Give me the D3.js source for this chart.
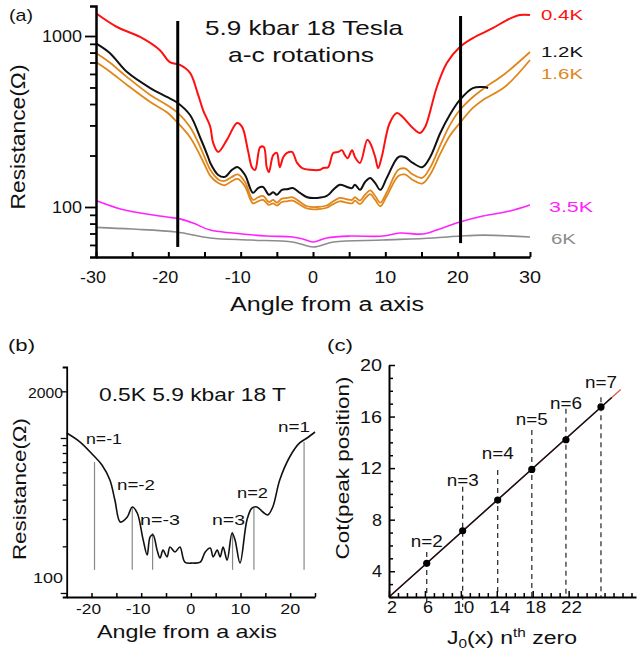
<!DOCTYPE html>
<html>
<head>
<meta charset="utf-8">
<script src="https://cdn.jsdelivr.net/npm/d3@7"></script>
<style>
  body { margin: 0; background: #fff; }
  svg { display: block; }
  text { font-family: "Liberation Sans", Arial, Helvetica, sans-serif; fill: #111; }
</style>
</head>
<body>
<svg id="fig" width="637" height="654"></svg>
<script>
// ---------------- Panel (a): a-c rotations at 5.9 kbar, 18 T ----------------
const r04K = [[-30,1358],[-27.1,1129],[-23.9,987],[-21.2,828],[-19.8,704],[-18.4,677],[-17.0,608],[-16.0,470],[-15.2,369],[-14.2,294],[-13.8,237],[-13.1,210],[-11.9,247],[-10.5,310],[-9.8,294],[-9.0,215],[-8.4,169],[-8.0,165],[-7.3,224],[-6.8,224],[-6.4,171],[-6.1,160],[-5.5,201],[-5.0,207],[-4.6,171],[-4.1,196],[-3.6,207],[-2.9,210],[-2.2,181],[-1.5,169],[-0.4,165],[1.0,165],[1.4,169],[2.1,171],[2.8,207],[3.5,210],[4.0,215],[4.4,201],[4.8,193],[5.4,215],[5.8,196],[6.5,181],[7.5,247],[7.9,237],[8.6,196],[9.0,169],[9.5,196],[10.6,310],[11.6,355],[12.4,336],[13.8,290],[14.8,271],[15.5,294],[16.5,406],[17.1,500],[18.5,695],[20.3,863],[22.1,973],[24.9,1114],[26.8,1240],[28.6,1327],[30,1327]];
const r12K = [[-30,906],[-28.1,796],[-25.7,615],[-22.5,496],[-20.2,440],[-18.7,406],[-17.0,345],[-15.6,255],[-14.5,196],[-14.2,181],[-13.1,154],[-12.2,150],[-11.2,165],[-10.4,171],[-9.4,154],[-8.3,121],[-7.6,129],[-6.9,131],[-6.1,118],[-5.5,122],[-5.0,118],[-4.3,126],[-3.6,127],[-2.8,129],[-1.8,121],[-0.8,114],[0.6,113],[1.9,116],[2.8,126],[3.7,135],[4.7,131],[5.4,129],[5.8,135],[6.5,126],[7.2,140],[7.9,148],[8.6,138],[9.3,126],[10.2,148],[11.8,196],[12.7,196],[13.8,181],[15.1,171],[16.2,196],[17.6,271],[18.9,345],[20.3,423],[22.1,496],[23.5,503],[24.2,496]];
const r16Ka = [[-30,796],[-28.1,700],[-25.7,575],[-22.5,452],[-20.2,395],[-18.7,355],[-17.0,294],[-15.6,225],[-14.5,175],[-14.2,165],[-13.1,145],[-12.2,142],[-11.2,150],[-10.4,155],[-9.4,140],[-8.3,110],[-7.6,114],[-6.9,116],[-6.1,107],[-5.5,110],[-5.0,106],[-4.3,112],[-3.6,113],[-2.8,114],[-1.8,107],[-0.8,101],[0.6,100],[1.9,102],[2.8,108],[3.7,113],[4.7,111],[5.4,110],[5.8,114],[6.5,109],[7.2,118],[7.9,125],[8.6,116],[9.3,106],[10.2,122],[11.8,165],[12.7,168],[13.8,155],[15.1,148],[16.2,170],[17.6,230],[18.9,300],[20.3,369],[22.1,440],[23.5,490],[26.5,600],[30,806]];
const r16Kb = [[-30,704],[-28.1,620],[-25.7,517],[-22.5,411],[-20.2,358],[-18.7,310],[-17.0,256],[-15.6,200],[-14.5,160],[-14.2,152],[-13.1,138],[-12.2,134],[-11.2,142],[-10.4,146],[-9.4,132],[-8.3,105],[-7.6,108],[-6.9,110],[-6.1,103],[-5.5,105],[-5.0,102],[-4.3,107],[-3.6,108],[-2.8,109],[-1.8,103],[-0.8,98],[0.6,97],[1.9,99],[2.8,104],[3.7,108],[4.7,106],[5.4,105],[5.8,109],[6.5,104],[7.2,112],[7.9,119],[8.6,110],[9.3,101],[10.2,116],[11.8,152],[12.7,155],[13.8,144],[15.1,137],[16.2,155],[17.6,205],[18.9,260],[20.3,310],[22.1,380],[23.5,423],[26.5,503],[30,724]];
const r35K = [[-30,109],[-27.1,98.7],[-23.9,92.2],[-20.2,87.4],[-18.4,85.2],[-16.6,80.6],[-14.2,73.3],[-11.1,70.4],[-6.4,67.6],[-2.8,66.8],[-1.4,65],[0,62.4],[1.9,65.9],[5.1,67.6],[9.7,67.6],[12,70.4],[15.2,69.5],[17.1,73.3],[20.3,81.7],[23.5,88.5],[27.2,94.8],[30,102.8]];
const r6K = [[-30,76],[-25,74.3],[-18.9,71.4],[-14.2,65.9],[-8.7,64.1],[-2.8,62.4],[0,58.4],[2.8,62.4],[9.7,64.1],[16.6,65.9],[20.3,67.6],[23.5,68.5],[30,66.8]];
const seriesA = [
  { data: r6K,   color: "#8c8c8c", width: 1.6 },
  { data: r35K,  color: "#ff22ff", width: 1.6 },
  { data: r16Kb, color: "#e0861a", width: 1.8 },
  { data: r16Ka, color: "#e0861a", width: 1.8 },
  { data: r12K,  color: "#111111", width: 2 },
  { data: r04K,  color: "#ff1010", width: 2 }
];
const tempLabels = ["0.4K", "1.2K", "1.6K", "3.5K", "6K"];
const tempColors = ["#ff1010", "#111111", "#e0861a", "#ff22ff", "#8c8c8c"];
// vertical markers: [angle, bottom R, top R]
const markersA = [[-18.7, 58.4, 1224], [20.4, 61.5, 1309]];
const xTicksA = [-30, -20, -10, 0, 10, 20, 30];
const yTicksA = [100, 1000];

// ---------------- Panel (b): 0.5K trace with peak numbering ----------------
const traceB = [[-25,1077],[-22.3,942],[-19.7,777],[-17.9,670],[-16.3,536],[-15.3,398],[-14.2,287],[-12.8,309],[-11.8,359],[-10.8,328],[-9.6,220],[-8.8,176],[-8.2,230],[-7.6,237],[-6.8,189],[-6.2,168],[-5.6,189],[-4.8,171],[-4.2,198],[-3.2,184],[-2.2,198],[-1.2,158],[0.4,156],[1.9,158],[2.9,184],[3.9,195],[4.5,171],[5.3,189],[5.9,171],[6.5,198],[7.3,163],[8.3,244],[8.9,220],[9.9,156],[11.3,296],[12.3,353],[13.3,359],[14.5,333],[15.5,319],[16.5,359],[17.9,536],[19.9,754],[21.9,929],[23.4,1000],[25,1093]];
const peakAngles = [-19.4, -11.8, -7.7, 8.4, 12.7, 22.8];
const peakTopR   = [700, 359, 244, 248, 359, 942];
const peakLabels = ["n=-1", "n=-2", "n=-3", "n=3", "n=2", "n=1"];
const peakBaseR = 141;
const xTicksB = [-20, -10, 0, 10, 20];
const yTicksB = [100, 2000];

// ---------------- Panel (c): cot(peak) against J0 zero ----------------
const zeroPos   = [6.2, 10.2, 14.1, 17.9, 21.7, 25.6];
const cotPeak   = [4.61, 7.14, 9.52, 11.9, 14.2, 16.75];
const orderLabels = ["n=2", "n=3", "n=4", "n=5", "n=6", "n=7"];
const dashTop   = [5.5, 10.55, 11.85, 14.95, 16.6, 17.5];
const fitLine   = [[2, 2], [27.8, 18.1]];
const xTicksC = [2, 6, 10, 14, 18, 22];
const yTicksC = [4, 8, 12, 16, 20];

const svg = d3.select("#fig");

function lineGen(x, y) {
  return d3.line().x(d => x(d[0])).y(d => y(d[1])).curve(d3.curveCatmullRom.alpha(0.5));
}
// text whose drawn width is fixed with textLength
function label(g, x, y, s, size, width, anchor, color) {
  const t = g.append("text").attr("x", x).attr("y", y).attr("font-size", size)
    .attr("text-anchor", anchor || "middle").text(s);
  if (width) t.attr("textLength", width).attr("lengthAdjust", "spacingAndGlyphs");
  if (color) t.style("fill", color);
  return t;
}
function vlabel(g, x, y, s, size, width) {
  return g.append("text").attr("transform", `translate(${x},${y}) rotate(-90)`)
    .attr("text-anchor", "middle").attr("font-size", size)
    .attr("textLength", width).attr("lengthAdjust", "spacingAndGlyphs").text(s);
}

// ===== Panel (a) =====
{
  const x = d3.scaleLinear().domain([-30, 30]).range([96, 530]);
  const y = d3.scaleLog().domain([51, 1500]).range([257, 5.9]);
  const g = svg.append("g");
  const ln = lineGen(x, y);

  seriesA.forEach(s => {
    g.append("path").attr("d", ln(s.data)).attr("fill", "none")
      .attr("stroke", s.color).attr("stroke-width", s.width).attr("stroke-linejoin", "round");
  });

  markersA.forEach(m => {
    g.append("line").attr("x1", x(m[0])).attr("x2", x(m[0]))
      .attr("y1", y(m[1])).attr("y2", y(m[2]))
      .attr("stroke", "#000").attr("stroke-width", 3);
  });

  const gx = g.append("g").attr("transform", "translate(0,257)")
    .call(d3.axisBottom(x).tickValues(d3.range(-30, 31, 5)).tickSize(0).tickFormat(""));
  gx.select(".domain").attr("stroke-width", 2.5).attr("stroke", "#000");
  gx.selectAll(".tick line").attr("y2", -5).attr("stroke-width", 2).attr("stroke", "#000");
  xTicksA.forEach(t => {
    label(g, x(t) + (t < 0 ? -3 : 0), 283, t, 16, t < 0 ? 26 : (t === 0 ? 10 : 22));
  });

  const minor = [60, 70, 80, 90, 200, 300, 400, 500, 600, 700, 800, 900];
  const gy = g.append("g").attr("transform", "translate(96,0)")
    .call(d3.axisLeft(y).tickValues(yTicksA.concat(minor)).tickSize(6).tickFormat(""));
  gy.select(".domain").attr("stroke-width", 2.5).attr("stroke", "#000");
  gy.selectAll(".tick line").attr("stroke-width", 1.8).attr("stroke", "#000")
    .attr("x2", d => yTicksA.includes(d) ? -11 : -6);
  yTicksA.forEach(t => {
    label(g, 82, y(t) + 6, t, 16, t === 1000 ? 40 : 30, "end");
  });

  vlabel(g, 25, 137, "Resistance(Ω)", 20, 145);
  label(g, 327, 311, "Angle from a axis", 20, 194);
  label(g, 9, 21, "(a)", 17, 24, "start");
  label(g, 304, 35, "5.9 kbar 18 Tesla", 21, 198);
  label(g, 301, 62, "a-c rotations", 21, 146);

  const legendPos = [[541, 20, 42], [541, 57, 42], [541, 79, 42], [549, 212, 44], [551, 244, 25]];
  tempLabels.forEach((t, i) => {
    label(g, legendPos[i][0], legendPos[i][1], t, 15, legendPos[i][2], "start", tempColors[i]);
  });
}

// ===== Panel (b) =====
{
  const x = d3.scaleLinear().domain([-25, 25]).range([66.7, 315]);
  const y = d3.scaleLog().domain([94.2, 2871]).range([597, 367]);
  const g = svg.append("g");

  peakAngles.forEach((a, i) => {
    g.append("line").attr("x1", x(a)).attr("x2", x(a))
      .attr("y1", y(peakBaseR)).attr("y2", y(peakTopR[i]))
      .attr("stroke", "#888").attr("stroke-width", 1.2);
  });

  g.append("path").attr("d", lineGen(x, y)(traceB)).attr("fill", "none")
    .attr("stroke", "#111").attr("stroke-width", 1.6).attr("stroke-linejoin", "round");

  const gx = g.append("g").attr("transform", "translate(0,597)")
    .call(d3.axisBottom(x).tickValues(d3.range(-25, 26, 5)).tickSize(0).tickFormat(""));
  gx.select(".domain").attr("stroke-width", 1.8).attr("stroke", "#000");
  gx.selectAll(".tick line").attr("y2", -4).attr("stroke-width", 1.5).attr("stroke", "#000");
  xTicksB.forEach(t => {
    label(g, x(t) + (t < 0 ? -3 : 0), 614, t, 15, t < 0 ? 25 : (t === 0 ? 9 : 20));
  });

  const minor = [200, 300, 400, 500, 600, 700, 800, 900];
  const gy = g.append("g").attr("transform", "translate(66.7,0)")
    .call(d3.axisLeft(y).tickValues([100, 1000, 2000].concat(minor)).tickSize(4).tickFormat(""));
  gy.select(".domain").attr("stroke-width", 1.8).attr("stroke", "#000");
  gy.selectAll(".tick line").attr("stroke-width", 1.3).attr("stroke", "#000")
    .attr("x2", d => (d === 1000 || d === 100 || d === 2000) ? -6 : -4);
  label(g, 63, y(2000) + 7, yTicksB[1], 15, 35, "end");
  label(g, 63, y(yTicksB[0]) - 10, yTicksB[0], 15, 30, "end");

  const labelPos = [[104, 444, 36], [136, 490, 38], [160, 525, 40], [228.5, 525, 33], [252.5, 498, 31], [294, 432, 32]];
  peakLabels.forEach((t, i) => {
    label(g, labelPos[i][0], labelPos[i][1], t, 15, labelPos[i][2]);
  });

  label(g, 192.5, 401, "0.5K 5.9 kbar 18 T", 19, 187);
  vlabel(g, 26, 489, "Resistance(Ω)", 19, 142);
  label(g, 187, 638, "Angle from a axis", 19, 180);
  label(g, 8, 351, "(b)", 17, 27, "start");
}

// ===== Panel (c) =====
{
  const x = d3.scaleLinear().domain([2, 29.5]).range([389, 636]);
  const y = d3.scaleLinear().domain([2, 20]).range([597, 365]);
  const g = svg.append("g");

  zeroPos.forEach((z, i) => {
    g.append("line").attr("x1", x(z)).attr("x2", x(z))
      .attr("y1", y(dashTop[i])).attr("y2", y(2) + (i < 2 ? 10 : 0))
      .attr("stroke", "#333").attr("stroke-width", 1.3).attr("stroke-dasharray", "5,4");
  });

  const lf = d3.line().x(d => x(d[0])).y(d => y(d[1]));
  g.append("path").attr("d", lf(fitLine)).attr("stroke", "#e05050").attr("stroke-width", 1.2).attr("fill", "none");
  const blackEnd = 26.8;
  const fitBlack = [fitLine[0], [blackEnd, fitLine[0][1] + (fitLine[1][1] - fitLine[0][1]) * (blackEnd - fitLine[0][0]) / (fitLine[1][0] - fitLine[0][0])]];
  g.append("path").attr("d", lf(fitBlack)).attr("stroke", "#111").attr("stroke-width", 1.5).attr("fill", "none");

  g.selectAll("circle.pt").data(zeroPos).enter().append("circle")
    .attr("cx", d => x(d)).attr("cy", (d, i) => y(cotPeak[i])).attr("r", 3.6).attr("fill", "#000");

  const gx = g.append("g").attr("transform", "translate(0,597)")
    .call(d3.axisBottom(x).tickValues(d3.range(2, 30, 1)).tickSize(0).tickFormat(""));
  gx.select(".domain").attr("stroke-width", 2).attr("stroke", "#000");
  gx.selectAll(".tick line").attr("y2", d => xTicksC.includes(d) ? -6 : -4)
    .attr("stroke-width", 1.5).attr("stroke", "#000");
  xTicksC.forEach(t => {
    label(g, x(t) + 3, 613, t, 16, t < 10 ? 10 : 21);
  });

  const gy = g.append("g").attr("transform", "translate(389,0)")
    .call(d3.axisLeft(y).tickValues(d3.range(2, 21, 1)).tickSize(0).tickFormat(""));
  gy.select(".domain").attr("stroke-width", 2).attr("stroke", "#000");
  gy.selectAll(".tick line").attr("x2", d => yTicksC.includes(d) ? 6 : 4)
    .attr("stroke-width", 1.5).attr("stroke", "#000");
  yTicksC.forEach(t => {
    label(g, 382, y(t) + 6, t, 16, t < 10 ? 10 : 22, "end");
  });

  const labelBase = [547, 486, 459, 425, 409, 388];
  orderLabels.forEach((t, i) => {
    label(g, x(zeroPos[i]), labelBase[i], t, 16, 32);
  });

  vlabel(g, 349, 468, "Cot(peak position)", 19, 183);
  const xt = g.append("text").attr("x", 512).attr("y", 644).attr("text-anchor", "middle")
    .attr("font-size", 18).attr("textLength", 130).attr("lengthAdjust", "spacingAndGlyphs");
  xt.append("tspan").text("J");
  xt.append("tspan").attr("dy", 4).attr("font-size", 12).text("0");
  xt.append("tspan").attr("dy", -4).text("(x) n");
  xt.append("tspan").attr("dy", -7).attr("font-size", 12).text("th");
  xt.append("tspan").attr("dy", 7).text(" zero");
  label(g, 327, 351, "(c)", 17, 26, "start");
}
</script>
</body>
</html>
